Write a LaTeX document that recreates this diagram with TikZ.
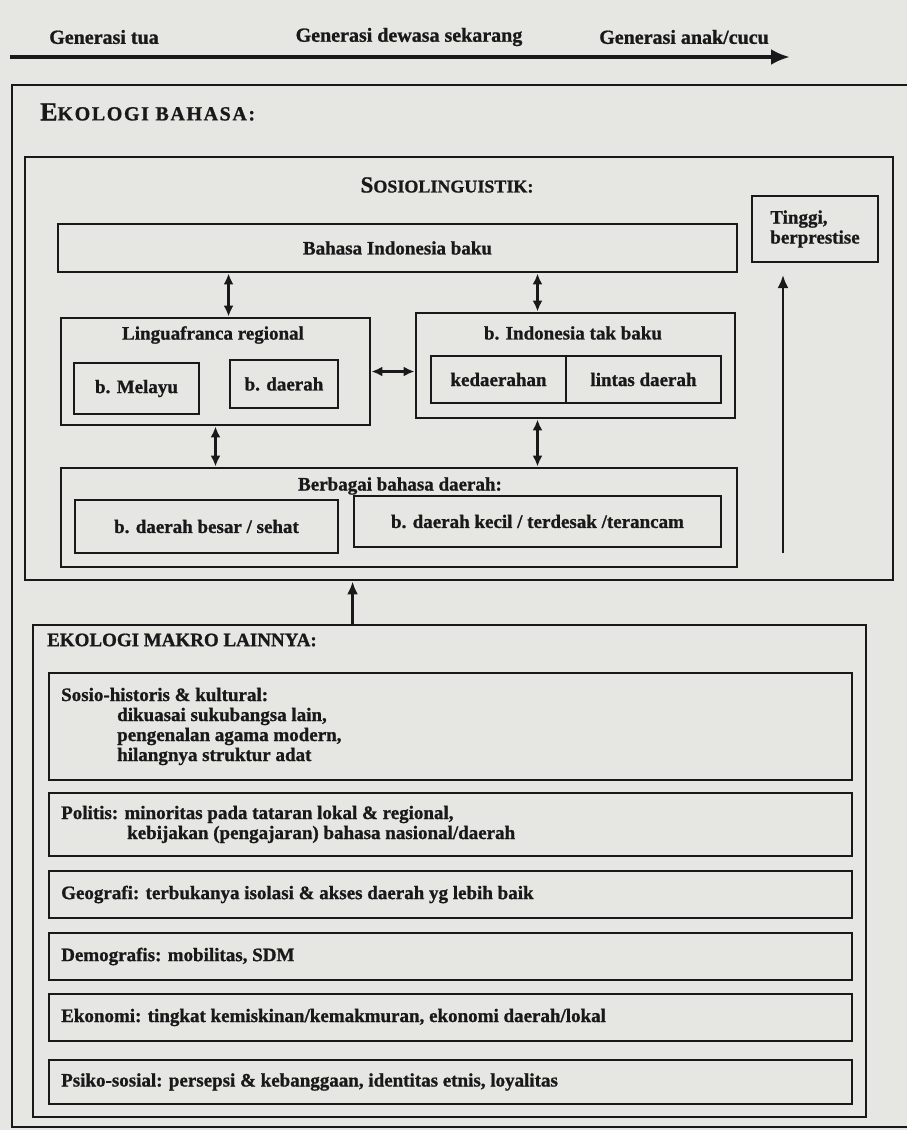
\documentclass[tikz,border=0pt]{standalone}
\usepackage{fontspec}
\setmainfont[BoldFeatures={FakeBold=1}]{Liberation Serif}
\newfontfamily\spacedcaps[LetterSpace=8, BoldFeatures={FakeBold=1}]{Liberation Serif}
\usepackage{tikz}
\usetikzlibrary{arrows.meta}
\usepackage{xcolor}
\definecolor{paper}{RGB}{230,230,227}
\definecolor{ink}{RGB}{25,25,25}
\tikzset{
    frame/.style={draw=ink, line width=2.9pt, inner sep=0pt},
    txt/.style={text=ink, inner sep=0pt, align=center,
        font=\bfseries\fontsize{19}{20}\selectfont},
    uparrow/.style={draw=ink, line width=2.8pt, -{Latex[length=13pt,width=11pt]}}
}
\newcommand{\factorbox}[4]{
    \node[frame, minimum width=803pt, minimum height=#3pt] (#1) at (450.5, #2) {};
    \node[txt, anchor=west, align=left] (#1text) at (61, #2) {#4};
}

\begin{document}
\begin{tikzpicture}[x=1pt, y=-1pt]
    \useasboundingbox[fill=paper] (0,0) rectangle (907,1130);

    \node[txt, font=\bfseries\fontsize{20}{21}\selectfont] (gentua)    at (104, 37) {Generasi tua};
    \node[txt, font=\bfseries\fontsize{20}{21}\selectfont] (gendewasa) at (409, 37) {Generasi dewasa sekarang};
    \node[txt, font=\bfseries\fontsize{20}{21}\selectfont] (genanak)   at (684, 37) {Generasi anak/cucu};
    \coordinate (genstart) at (10, 57);
    \coordinate (genend)   at (790, 57);
    \draw[draw=ink, line width=4.5pt, -{Latex[length=19pt,width=16pt]}] (genstart) -- (genend);

    \node[frame, minimum width=903pt, minimum height=1042pt] (ekologi) at (463.5, 606) {};
    \node[txt, anchor=west] (ekologititle) at (40, 112)
        {\spacedcaps\fontsize{26}{26}\selectfont E\fontsize{20}{20}\selectfont KOLOGI BAHASA:};

    \node[frame, minimum width=868pt, minimum height=423pt] (sosio) at (459, 368.5) {};
    \node[txt] (sosititle) at (447, 185)
        {\fontsize{23}{23}\selectfont S\fontsize{18}{18}\selectfont OSIOLINGUISTIK:};

    \node[frame, txt, minimum width=679pt, minimum height=48pt] (baku) at (397.5, 248) {Bahasa Indonesia baku};
    \node[frame, txt, align=left, minimum width=126pt, minimum height=66pt] (tinggi) at (815, 229) {Tinggi,\\berprestise};

    \node[frame, minimum width=309pt, minimum height=107pt] (lingua) at (215.5, 371.5) {};
    \node[txt] (linguatitle) at (213, 335) {Linguafranca regional};
    \node[frame, txt, minimum width=125pt, minimum height=51pt] (melayu) at (136.5, 388.5) {b. Melayu};
    \node[frame, txt, minimum width=108pt, minimum height=48pt] (bdaerah) at (284, 384) {b. daerah};

    \node[frame, minimum width=319pt, minimum height=105pt] (takbaku) at (575.5, 365.5) {};
    \node[txt] (takbakutitle) at (573, 333) {b. Indonesia tak baku};
    \node[frame, txt, minimum width=135pt, minimum height=47pt] (kedaerahan) at (498.5, 379.5) {kedaerahan};
    \node[frame, txt, minimum width=155pt, minimum height=47pt] (lintas) at (643.5, 379.5) {lintas daerah};

    \node[frame, minimum width=676pt, minimum height=99pt] (berbagai) at (399, 517.5) {};
    \node[txt] (berbagaititle) at (400, 486) {Berbagai bahasa daerah:};
    \node[frame, txt, minimum width=263pt, minimum height=53pt] (besar) at (206.5, 526.5) {b. daerah besar / sehat};
    \node[frame, txt, minimum width=367pt, minimum height=51pt] (kecil) at (537.5, 521.5) {b. daerah kecil / terdesak /terancam};

    \begin{scope}[every path/.style={
            draw=ink,
            line width=2.6pt,
            {Latex[length=11pt,width=10pt]}-{Latex[length=11pt,width=10pt]}
        }]
        \draw (baku.south -| bdaerah.west) -- (lingua.north -| bdaerah.west);
        \draw (baku.south -| kecil) -- (takbaku.north -| kecil);
        \draw (lingua.east) -- (takbaku.west |- lingua.east);
        \draw (lingua.south) -- (berbagai.north -| lingua.south);
        \draw (takbaku.south -| kecil) -- (berbagai.north -| kecil);
    \end{scope}

    \coordinate (prestigebase) at (783, 553);
    \coordinate (prestigetop)  at (783, 275);
    \draw[uparrow] (prestigebase) -- (prestigetop);

    \node[frame, minimum width=833pt, minimum height=492pt] (makro) at (449.5, 871) {};
    \node[txt, anchor=west] (makrotitle) at (47, 640) {EKOLOGI MAKRO LAINNYA:};
    \draw[uparrow] (makro.north -| kecil.west) -- (sosio.south -| kecil.west);

    \factorbox{historis}{726.5}{107}{Sosio-historis \& kultural:\\\hspace*{56pt}dikuasai sukubangsa lain,\\\hspace*{56pt}pengenalan agama modern,\\\hspace*{56pt}hilangnya struktur adat}
    \factorbox{politis}{824.5}{63}{Politis: minoritas pada tataran lokal \& regional,\\\hspace*{66pt}kebijakan (pengajaran) bahasa nasional/daerah}
    \factorbox{geografi}{894.5}{47}{Geografi: terbukanya isolasi \& akses daerah yg lebih baik}
    \factorbox{demografi}{956.5}{47}{Demografis: mobilitas, SDM}
    \factorbox{ekonomi}{1017.5}{47}{Ekonomi: tingkat kemiskinan/kemakmuran, ekonomi daerah/lokal}
    \factorbox{psiko}{1082}{44}{Psiko-sosial: persepsi \& kebanggaan, identitas etnis, loyalitas}
\end{tikzpicture}
\end{document}
